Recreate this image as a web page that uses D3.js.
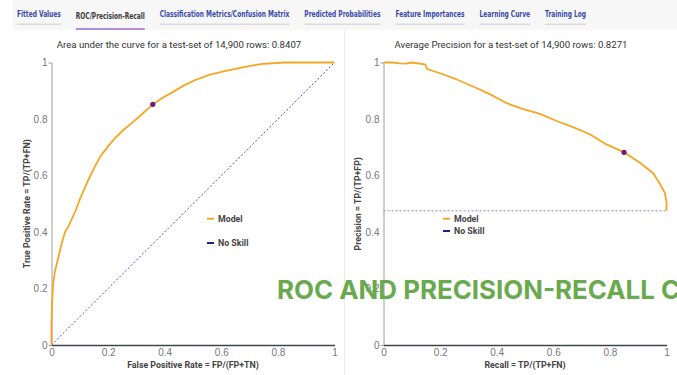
<!DOCTYPE html>
<html>
<head>
<meta charset="utf-8">
<script src="https://cdn.jsdelivr.net/npm/d3@7"></script>
<style>
  body { margin: 0; background: #fff; }
  svg { display: block; font-family: Roboto, "Liberation Sans", sans-serif; }
</style>
</head>
<body>
<svg id="chart" width="677" height="375"></svg>
<script>
// tab labels
const tabNames = ["Fitted Values", "ROC/Precision-Recall", "Classification Metrics/Confusion Matrix",
  "Predicted Probabilities", "Feature Importances", "Learning Curve", "Training Log"];
const activeTab = "ROC/Precision-Recall";

// chart titles
const rocTitle = "Area under the curve for a test-set of 14,900 rows: 0.8407";
const prTitle = "Average Precision for a test-set of 14,900 rows: 0.8271";
const overlayText = "ROC AND PRECISION-RECALL CURVES";

// ROC curve
const rocFpr = [0, 0, 0.002, 0.006, 0.012, 0.024, 0.036, 0.048, 0.06, 0.071, 0.083, 0.10, 0.115, 0.13,
  0.15, 0.172, 0.2, 0.225, 0.255, 0.289, 0.325, 0.358, 0.395, 0.431, 0.47, 0.508, 0.56, 0.62, 0.68, 0.738, 0.82, 1];
const rocTpr = [0, 0.08, 0.15, 0.22, 0.26, 0.31, 0.36, 0.40, 0.42, 0.445, 0.47, 0.515, 0.55, 0.584,
  0.625, 0.667, 0.703, 0.733, 0.762, 0.79, 0.822, 0.852, 0.876, 0.897, 0.92, 0.938, 0.957, 0.971, 0.984, 0.994, 1, 1];
const rocMarker = [0.358, 0.852];

// precision-recall curve
const prRecall = [0, 0.03, 0.06, 0.08, 0.10, 0.147, 0.154, 0.2, 0.259, 0.318, 0.376, 0.435, 0.494,
  0.553, 0.612, 0.67, 0.729, 0.788, 0.85, 0.906, 0.953, 0.976, 0.994, 1, 1];
const prPrecision = [1, 1, 0.997, 0.996, 1, 0.993, 0.977, 0.962, 0.94, 0.914, 0.888, 0.856, 0.835,
  0.818, 0.793, 0.771, 0.746, 0.71, 0.682, 0.645, 0.608, 0.572, 0.538, 0.507, 0.475];
const prMarker = [0.85, 0.682];
const noSkillPrecision = 0.475;

const axisTicks = [0, 0.2, 0.4, 0.6, 0.8, 1];
const legendLabels = ["Model", "No Skill"];

const orange = "#f6a623";
const navy = "#1a237e";
const purple = "#6d1b7b";

const svg = d3.select("#chart");

// tab bar
svg.append("rect").attr("x", 13).attr("y", 0).attr("width", 664).attr("height", 30).attr("fill", "#f7f7f8");

const defs = svg.append("defs");
const grad = defs.append("linearGradient").attr("id", "tabGrad");
grad.append("stop").attr("offset", "0%").attr("stop-color", "#a48fe0");
grad.append("stop").attr("offset", "100%").attr("stop-color", "#c08ad8");

const tabFont = "bold 8.5px 'Liberation Sans Narrow', 'DejaVu Sans Condensed', sans-serif";
const measure = svg.append("text").style("font", tabFont);
const natural = tabNames.map(t => { measure.text(t); return measure.node().getComputedTextLength(); });
measure.remove();
const tabGap = 15;
const k = (586 - 17 - tabGap * (tabNames.length - 1)) / d3.sum(natural);
let cursor = 17;
tabNames.forEach((t, i) => {
  const w = natural[i] * k;
  const active = t === activeTab;
  svg.append("text")
    .attr("x", cursor).attr("y", active ? 19 : 17)
    .attr("textLength", w).attr("lengthAdjust", "spacingAndGlyphs")
    .style("font", tabFont)
    .attr("fill", active ? "#3a3a3a" : "#3949ab")
    .text(t);
  svg.append("rect")
    .attr("x", cursor).attr("y", active ? 28 : 23.5)
    .attr("width", w).attr("height", active ? 2 : 1.5)
    .attr("fill", active ? "url(#tabGrad)" : "#dcdcdc");
  cursor += w + tabGap;
});

// panel separator
svg.append("line").attr("x1", 344.5).attr("x2", 344.5).attr("y1", 30).attr("y2", 375)
  .attr("stroke", "#ececec");

function drawPanel(opts) {
  const x = d3.scaleLinear().domain([0, 1]).range([opts.left, opts.left + 283]);
  const y = d3.scaleLinear().domain([0, 1]).range([345, 62.5]);
  const g = svg.append("g");

  const fmt = d => d3.format("~g")(d);

  const yAxis = g.append("g")
    .attr("transform", `translate(${x(0)},0)`)
    .call(d3.axisLeft(y).tickValues(axisTicks).tickFormat(fmt).tickSizeInner(0).tickSizeOuter(3).tickPadding(4));
  yAxis.select(".domain").attr("stroke", "#9aa0a6");
  yAxis.selectAll("text").attr("fill", "#777").style("font-size", "10px");

  const xAxis = g.append("g")
    .attr("transform", `translate(0,${y(0)})`)
    .call(d3.axisBottom(x).tickValues(axisTicks).tickFormat(fmt).tickSize(0).tickPadding(4));
  xAxis.select(".domain").attr("stroke", "#3c474c").attr("stroke-width", 1.5);
  xAxis.selectAll("text").attr("fill", "#777").style("font-size", "10px");

  // title
  g.append("text").attr("x", opts.titleX).attr("y", 48)
    .attr("text-anchor", "middle").attr("fill", "#333").style("font-size", "9.6px")
    .text(opts.title);

  // axis titles
  g.append("text").attr("x", (x(0) + x(1)) / 2).attr("y", 368)
    .attr("text-anchor", "middle").attr("fill", "#444")
    .style("font-size", "8.8px").style("font-weight", "bold")
    .text(opts.xLabel);
  g.append("text")
    .attr("transform", `translate(${opts.yLabelX},${(y(0) + y(1)) / 2}) rotate(-90)`)
    .attr("text-anchor", "middle").attr("fill", "#444")
    .style("font-size", "8.8px").style("font-weight", "bold")
    .text(opts.yLabel);

  // no skill line
  g.append("path")
    .datum(opts.noSkill)
    .attr("fill", "none").attr("stroke", opts.noSkillColor).attr("stroke-width", 1)
    .attr("stroke-dasharray", "2,2")
    .attr("d", d3.line().x(d => x(d[0])).y(d => y(d[1])));

  // model curve
  const pts = opts.xs.map((v, i) => [v, opts.ys[i]]);
  g.append("path")
    .datum(pts)
    .attr("fill", "none").attr("stroke", orange).attr("stroke-width", 1.8)
    .attr("stroke-linejoin", "round")
    .attr("d", d3.line().x(d => x(d[0])).y(d => y(d[1])));

  g.append("circle").attr("cx", x(opts.marker[0])).attr("cy", y(opts.marker[1]))
    .attr("r", 2.6).attr("fill", purple);

  // legend
  legendLabels.forEach((l, i) => {
    const ly = opts.legendY[i];
    g.append("line").attr("x1", opts.legendX).attr("x2", opts.legendX + 7)
      .attr("y1", ly).attr("y2", ly)
      .attr("stroke", i === 0 ? orange : navy).attr("stroke-width", 2);
    g.append("text").attr("x", opts.legendX + 11).attr("y", ly).attr("dy", "0.35em")
      .attr("fill", "#444").style("font-size", "8.8px").style("font-weight", "bold")
      .text(l);
  });
}

drawPanel({
  left: 51.5, title: rocTitle, titleX: 179,
  xLabel: "False Positive Rate = FP/(FP+TN)", yLabel: "True Positive Rate = TP/(TP+FN)", yLabelX: 30,
  xs: rocFpr, ys: rocTpr, marker: rocMarker,
  noSkill: [[0, 0], [1, 1]], noSkillColor: "#5b4fc9",
  legendX: 207, legendY: [218.7, 243]
});

drawPanel({
  left: 383.5, title: prTitle, titleX: 511,
  xLabel: "Recall = TP/(TP+FN)", yLabel: "Precision = TP/(TP+FP)", yLabelX: 361,
  xs: prRecall, ys: prPrecision, marker: prMarker,
  noSkill: [[0, noSkillPrecision], [1, noSkillPrecision]], noSkillColor: "#8c8cc0",
  legendX: 443, legendY: [218.7, 231]
});

// green overlay caption, sized so "…RECALL " ends where the cut-off C starts
const overlay = svg.append("text").attr("x", 277).attr("y", 298.5)
  .attr("fill", "#6aaa4e")
  .style("font-family", "Inter, 'Open Sans', sans-serif").style("font-weight", 700)
  .style("font-size", "23px");
overlay.text("ROC AND PRECISION-RECALL ");
const wPrefix = overlay.node().getComputedTextLength();
overlay.style("font-size", (23 * 378 / wPrefix) + "px").text(overlayText);
</script>
</body>
</html>
